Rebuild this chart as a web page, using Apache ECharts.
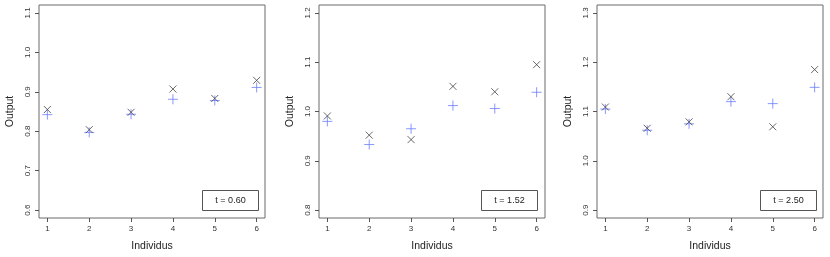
<!DOCTYPE html>
<html><head><meta charset="utf-8">
<script src="https://cdn.jsdelivr.net/npm/echarts@6/dist/echarts.min.js"></script>
<style>html,body{margin:0;padding:0;background:#fff}#c{width:830px;height:257px}</style>
</head><body><div id="c"></div>
<script>
var individus = [1, 2, 3, 4, 5, 6];
var xTicks = [1, 2, 3, 4, 5, 6];
var labels = ['t = 0.60', 't = 1.52', 't = 2.50'];
var obs1 = [0.855, 0.804, 0.848, 0.907, 0.883, 0.929];
var pred1 = [0.842, 0.797, 0.843, 0.881, 0.878, 0.911];
var obs2 = [0.991, 0.952, 0.943, 1.051, 1.040, 1.095];
var pred2 = [0.980, 0.933, 0.965, 1.012, 1.006, 1.039];
var obs3 = [1.109, 1.066, 1.079, 1.130, 1.069, 1.185];
var pred3 = [1.105, 1.062, 1.075, 1.120, 1.116, 1.149];
var yTicks1 = [0.6, 0.7, 0.8, 0.9, 1.0, 1.1];
var yTicks2 = [0.8, 0.9, 1.0, 1.1, 1.2];
var yTicks3 = [0.9, 1.0, 1.1, 1.2, 1.3];

var obsAll = [obs1, obs2, obs3];
var predAll = [pred1, pred2, pred3];
var yTicksAll = [yTicks1, yTicks2, yTicks3];

var gridLefts = [39, 319, 597];
var gridW = 226;
var boxes = [[202, 190], [481, 190], [760, 190]];

var font = 'Liberation Sans, Arial, sans-serif';
var X_PATH = 'path://M0,0L10,10M10,0L0,10';
var P_PATH = 'path://M5,0L5,10M0,5L10,5';

var grids = [], xAxes = [], yAxes = [], series = [], graphics = [];
for (var i = 0; i < 3; i++) {
  grids.push({left: gridLefts[i], top: 5, width: gridW, height: 213, show: true,
    borderColor: '#6b6b6b', borderWidth: 1, backgroundColor: 'transparent'});
  var yt = yTicksAll[i];
  var ylo = yt[0], yhi = yt[yt.length - 1], ext = (yhi - ylo) * 0.04;
  xAxes.push({gridIndex: i, type: 'value', min: 0.8, max: 6.2,
    name: 'Individus', nameLocation: 'middle', nameGap: 23,
    nameTextStyle: {fontFamily: font, fontSize: 10.5, color: '#222'},
    axisLine: {show: false}, splitLine: {show: false},
    axisTick: {show: true, inside: false, length: 4, customValues: xTicks, lineStyle: {color: '#555'}},
    axisLabel: {customValues: xTicks, margin: 7, fontFamily: font, fontSize: 8, color: '#333'}});
  yAxes.push({gridIndex: i, type: 'value', min: ylo - ext, max: yhi + ext,
    name: 'Output', nameLocation: 'middle', nameGap: 23,
    nameTextStyle: {fontFamily: font, fontSize: 10.5, color: '#222'},
    axisLine: {show: false}, splitLine: {show: false},
    axisTick: {show: true, inside: false, length: 4, customValues: yt, lineStyle: {color: '#555'}},
    axisLabel: {customValues: yt, margin: 7, rotate: 90, fontFamily: font, fontSize: 8, color: '#333',
      formatter: function (v) { return v.toFixed(1); }}});
  series.push({type: 'scatter', xAxisIndex: i, yAxisIndex: i, name: 'pred',
    data: individus.map(function (x, k) { return [x, predAll[i][k]]; }),
    symbol: P_PATH, symbolSize: 10,
    itemStyle: {color: 'transparent', borderColor: '#6b7dff', borderWidth: 1}, silent: true});
  series.push({type: 'scatter', xAxisIndex: i, yAxisIndex: i, name: 'obs',
    data: individus.map(function (x, k) { return [x, obsAll[i][k]]; }),
    symbol: X_PATH, symbolSize: 7,
    itemStyle: {color: 'transparent', borderColor: '#444', borderWidth: 1}, silent: true});
  graphics.push({type: 'group', left: boxes[i][0], top: boxes[i][1], children: [
    {type: 'rect', shape: {x: 0, y: 0, width: 56, height: 20}, style: {fill: '#fff', stroke: '#555', lineWidth: 1}},
    {type: 'text', x: 28, y: 10, style: {text: labels[i], font: '9px ' + font, fill: '#222', align: 'center', verticalAlign: 'middle'}}
  ]});
}

var chart = echarts.init(document.getElementById('c'), null, {renderer: 'canvas'});
chart.setOption({animation: false, backgroundColor: '#fff', grid: grids, xAxis: xAxes, yAxis: yAxes, series: series, graphic: graphics});
</script></body></html>
